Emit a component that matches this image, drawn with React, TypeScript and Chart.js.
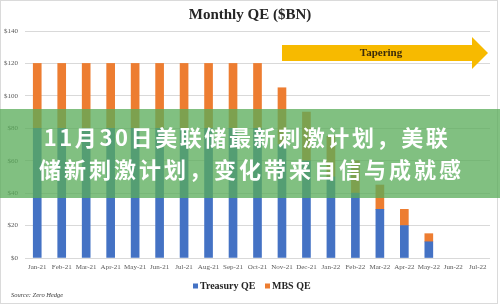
import React, { useEffect, useRef } from "react";
import { Chart, registerables } from "chart.js";

Chart.register(...registerables);

const categories = [
  "Jan-21", "Feb-21", "Mar-21", "Apr-21", "May-21", "Jun-21", "Jul-21", "Aug-21", "Sep-21", "Oct-21",
  "Nov-21", "Dec-21", "Jan-22", "Feb-22", "Mar-22", "Apr-22", "May-22", "Jun-22", "Jul-22",
];
const treasuryQE = [80, 80, 80, 80, 80, 80, 80, 80, 80, 80, 70, 60, 50, 40, 30, 20, 10, 0, 0];
const mbsQE = [40, 40, 40, 40, 40, 40, 40, 40, 40, 40, 35, 30, 25, 20, 15, 10, 5, 0, 0];
const yMax = 140;
const yStep = 20;

const titleText = "Monthly QE ($BN)";
const arrowText = "Tapering";
const sourceText = "Source: Zero Hedge";
const bannerLines = ["11月30日美联储最新刺激计划，美联", "储新刺激计划，变化带来自信与成就感"];

const BLUE = "#4472C4";
const ORANGE = "#ED7D31";
const SERIF = "'Liberation Serif', 'DejaVu Serif', serif";

// zero-valued months draw no bar at all
const noZero = (arr: number[]) => arr.map((v) => (v === 0 ? null : v));

const overlayPlugin = {
  id: "overlay",
  afterDraw(chart: any) {
    const ctx: CanvasRenderingContext2D = chart.ctx;
    ctx.save();

    // outer border
    ctx.strokeStyle = "#DADADA";
    ctx.lineWidth = 1;
    ctx.strokeRect(0.5, 0.5, 497, 303);

    // title
    ctx.fillStyle = "#262626";
    ctx.font = `bold 15px ${SERIF}`;
    ctx.textAlign = "center";
    ctx.textBaseline = "middle";
    ctx.fillText(titleText, 250, 15);

    // tapering arrow
    ctx.fillStyle = "#F7BA00";
    ctx.beginPath();
    ctx.moveTo(282, 45);
    ctx.lineTo(472, 45);
    ctx.lineTo(472, 37);
    ctx.lineTo(488, 53);
    ctx.lineTo(472, 69);
    ctx.lineTo(472, 61);
    ctx.lineTo(282, 61);
    ctx.closePath();
    ctx.fill();
    ctx.fillStyle = "#3B2B0A";
    ctx.font = `bold 11px ${SERIF}`;
    ctx.fillText(arrowText, 381, 53);

    // legend
    const ds = chart.data.datasets;
    const legendPos = [193, 265];
    ctx.font = `bold 10px ${SERIF}`;
    ctx.textAlign = "left";
    ds.forEach((d: any, i: number) => {
      const x = legendPos[i];
      ctx.fillStyle = d.backgroundColor;
      ctx.fillRect(x, 283.5, 5, 5);
      ctx.fillStyle = "#262626";
      ctx.fillText(d.label, x + 7, 286.5);
    });

    // source
    ctx.fillStyle = "#404040";
    ctx.font = `italic 6.5px ${SERIF}`;
    ctx.fillText(sourceText, 11, 295);

    // banner
    ctx.fillStyle = "rgba(90,172,90,0.76)";
    ctx.fillRect(0, 109, 500, 89);
    ctx.fillStyle = "#FFFFFF";
    ctx.font = "bold 22px 'Noto Sans CJK SC', sans-serif";
    ctx.textAlign = "center";
    try {
      (ctx as any).letterSpacing = "2.6px";
    } catch (e) {}
    ctx.fillText(bannerLines[0], 247, 138);
    try {
      (ctx as any).letterSpacing = "3px";
    } catch (e) {}
    ctx.fillText(bannerLines[1], 251.5, 170);
    ctx.restore();
  },
};

export default function App() {
  const ref = useRef<HTMLCanvasElement | null>(null);

  useEffect(() => {
    if (!ref.current) return;
    const chart = new Chart(ref.current, {
      type: "bar",
      data: {
        labels: categories,
        datasets: [
          { label: "Treasury QE", data: noZero(treasuryQE), backgroundColor: BLUE, barThickness: 8 },
          { label: "MBS QE", data: noZero(mbsQE), backgroundColor: ORANGE, barThickness: 8 },
        ],
      },
      options: {
        responsive: false,
        animation: false,
        layout: { padding: { top: 31, left: 0, right: 10, bottom: 29 } },
        plugins: {
          legend: { display: false },
          title: { display: false },
          tooltip: { enabled: false },
        },
        scales: {
          x: {
            stacked: true,
            grid: { display: false, drawTicks: false },
            border: { display: false },
            ticks: {
              color: "#595959",
              font: { family: SERIF, size: 7 },
              padding: 5,
              maxRotation: 0,
              autoSkip: false,
            },
            afterFit: (s: any) => {
              s.height = 20;
            },
          },
          y: {
            stacked: true,
            min: 0,
            max: yMax,
            grid: { color: "#D9D9D9", drawTicks: false, lineWidth: 1 },
            border: { display: false },
            ticks: {
              stepSize: yStep,
              color: "#595959",
              font: { family: SERIF, size: 7 },
              padding: 7,
              callback: (v: any) => "$" + v,
            },
            afterFit: (s: any) => {
              s.width = 25;
            },
          },
        },
      },
      plugins: [overlayPlugin],
    });
    return () => chart.destroy();
  }, []);

  return (
    <div style={{ position: "fixed", left: 0, top: 0, width: 500, height: 307, background: "#fff" }}>
      <canvas ref={ref} width={500} height={307} />
    </div>
  );
}
